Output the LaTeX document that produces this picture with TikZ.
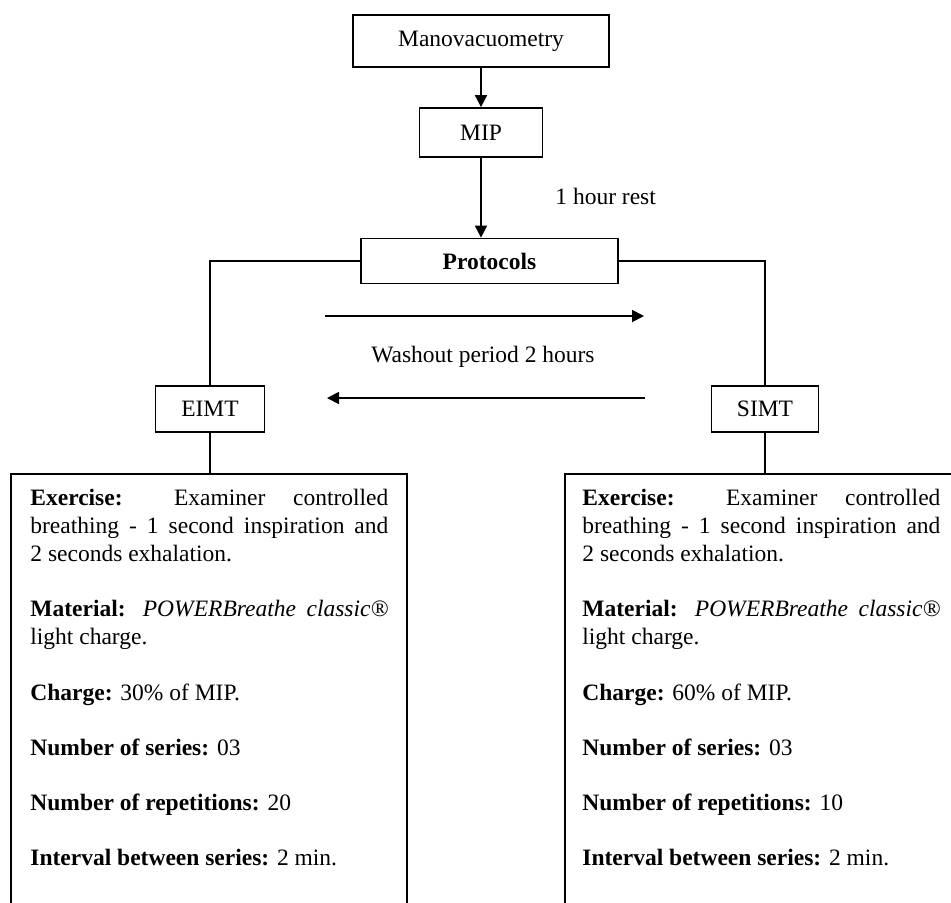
\documentclass[tikz,border=0pt]{standalone}
\usepackage{fontspec}
\setmainfont{Liberation Serif}
\usetikzlibrary{arrows.meta}
\begin{document}
\begin{tikzpicture}[x=0.5pt,y=-0.5pt,
  every node/.style={font=\fontsize{11.75}{14}\selectfont},
  box/.style={draw, line width=0.9pt, inner sep=0pt, align=center},
  conn/.style={line width=0.9pt},
  arr/.style={conn, -{Triangle[length=6pt,width=6pt]}},
  panel/.style={draw, line width=0.9pt, anchor=north west, minimum width=198pt, minimum height=230pt, inner sep=0pt},
  paneltext/.style={anchor=north west, inner sep=0pt, text width=179pt, align=justify}
]
\useasboundingbox (0,0) rectangle (951,902);
\clip (0,0) rectangle (951,902);
\node[box, minimum width=128pt, minimum height=26pt] (mano) at (481,41) {Manovacuometry};
\node[box, minimum width=61.5pt, minimum height=24.5pt] (mip) at (481,132.5) {MIP};
\node[box, minimum width=128.5pt, minimum height=22.5pt] (prot) at (489.5,261) {\textbf{Protocols}};
\node[box, minimum width=54.5pt, minimum height=23pt] (eimt) at (210,409) {EIMT};
\node[box, minimum width=53.5pt, minimum height=23pt] (simt) at (765,409) {SIMT};
\node[anchor=west, inner sep=0pt] (rest) at (555,196) {1 hour rest};
\node[inner sep=0pt] (wash) at (483,357) {Washout period 2 hours};
\node[panel] (lpanel) at (10,473) {};
\node[panel] (rpanel) at (564,473) {};
\node[paneltext] (ltext) at (30,489) {\setlength{\parskip}{13.6pt}\setlength{\parindent}{0pt}\hyphenpenalty=10000 \exhyphenpenalty=10000
\textbf{Exercise:} Examiner controlled breathing - 1 second inspiration and 2~seconds exhalation.\par
\textbf{Material:} \textit{POWERBreathe classic®} light charge.\par
\textbf{Charge:} 30\% of MIP.\par
\textbf{Number of series:} 03\par
\textbf{Number of repetitions:} 20\par
\textbf{Interval between series:} 2 min.};
\node[paneltext] (rtext) at (582,489) {\setlength{\parskip}{13.6pt}\setlength{\parindent}{0pt}\hyphenpenalty=10000 \exhyphenpenalty=10000
\textbf{Exercise:} Examiner controlled breathing - 1 second inspiration and 2~seconds exhalation.\par
\textbf{Material:} \textit{POWERBreathe classic®} light charge.\par
\textbf{Charge:} 60\% of MIP.\par
\textbf{Number of series:} 03\par
\textbf{Number of repetitions:} 10\par
\textbf{Interval between series:} 2 min.};
\draw[arr] (mano) -- (mip);
\draw[arr] (mip) -- (mip |- prot.north);
\draw[conn] (prot.west) -| (eimt.north);
\draw[conn] (prot.east) -| (simt.north);
\draw[conn] (eimt.south) -- (eimt.south |- lpanel.north);
\draw[conn] (simt.south) -- (simt.south |- rpanel.north);
\coordinate (r1) at (325,316);
\coordinate (r2) at (644,316);
\draw[arr] (r1) -- (r2);
\coordinate (l1) at (645,398);
\coordinate (l2) at (327,398);
\draw[arr] (l1) -- (l2);
\end{tikzpicture}
\end{document}
